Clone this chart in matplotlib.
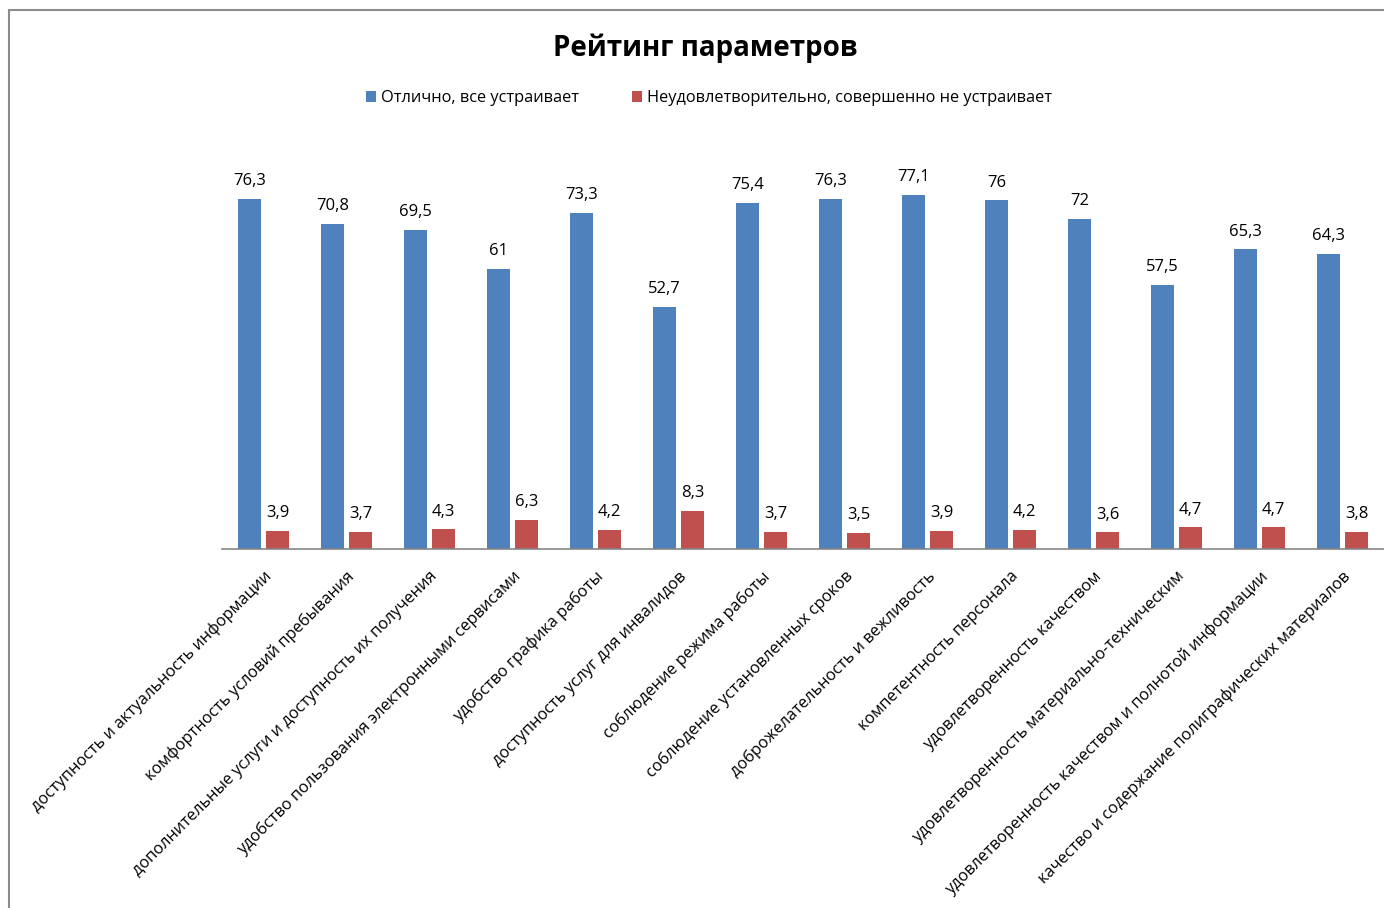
import matplotlib
matplotlib.use("Agg")
import matplotlib.pyplot as plt
from matplotlib.patches import Rectangle
import numpy as np

plt.rcParams['font.family'] = ['Open Sans', 'DejaVu Sans']

categories = [
    "доступность и актуальность информации",
    "комфортность условий пребывания",
    "дополнительные услуги и доступность их получения",
    "удобство пользования электронными сервисами",
    "удобство графика работы",
    "доступность услуг для инвалидов",
    "соблюдение режима работы",
    "соблюдение установленных сроков",
    "доброжелательность и вежливость",
    "компетентность персонала",
    "удовлетворенность качеством",
    "удовлетворенность материально-техническим",
    "удовлетворенность качеством и полнотой информации",
    "качество и содержание полиграфических материалов",
]
excellent = [76.3, 70.8, 69.5, 61, 73.3, 52.7, 75.4, 76.3, 77.1, 76, 72, 57.5, 65.3, 64.3]
poor = [3.9, 3.7, 4.3, 6.3, 4.2, 8.3, 3.7, 3.5, 3.9, 4.2, 3.6, 4.7, 4.7, 3.8]
series_names = ["Отлично, все устраивает", "Неудовлетворительно, совершенно не устраивает"]
title = "Рейтинг параметров"

blue = "#4F81BD"
red = "#C0504D"

W, H = 1384, 908
fig = plt.figure(figsize=(W / 100, H / 100), dpi=100)
fig.patches.append(Rectangle((9 / W, -0.1), 1.2, (H - 10) / H + 0.1, transform=fig.transFigure,
                             fill=False, edgecolor="#8c8c8c", linewidth=1.5))

ax = fig.add_axes([222 / W, (H - 549) / H, (1384 - 222) / W, (549 - 136) / H])
x = np.arange(len(categories))
bw = 0.27
off = 0.17
b1 = ax.bar(x - off, excellent, bw, color=blue, label=series_names[0])
b2 = ax.bar(x + off, poor, bw, color=red, label=series_names[1])

def fmt(v):
    s = f"{v:g}"
    return s.replace(".", ",")

for bars, vals in ((b1, excellent), (b2, poor)):
    for rect, v in zip(bars, vals):
        ax.annotate(fmt(v), (rect.get_x() + rect.get_width() / 2, rect.get_height()),
                    xytext=(0, 7), textcoords="offset points", ha="center", va="bottom",
                    fontsize=12, color="#000000")

ax.set_xlim(-0.5, len(categories) - 0.5)
ax.set_ylim(0, 90)
for s in ("top", "right", "left"):
    ax.spines[s].set_visible(False)
ax.spines["bottom"].set_color("#868686")
ax.spines["bottom"].set_linewidth(1.2)
ax.set_yticks([])
ax.set_xticks(x)
ax.set_xticklabels(categories, rotation=45, ha="right", va="top", rotation_mode="anchor", fontsize=11.8)
ax.tick_params(axis="x", length=0, pad=14)

fig.text(705 / W, 1 - 48 / H, title, ha="center", va="center", fontsize=20, fontweight="bold")

leg = fig.legend(handles=[b1, b2], labels=series_names, loc="center", bbox_to_anchor=(709 / W, 1 - 98 / H),
                 ncol=2, frameon=False, fontsize=11.8, handlelength=0.65, handleheight=0.65,
                 handletextpad=0.3, columnspacing=3.2)

fig.savefig("out.png", dpi=100)
